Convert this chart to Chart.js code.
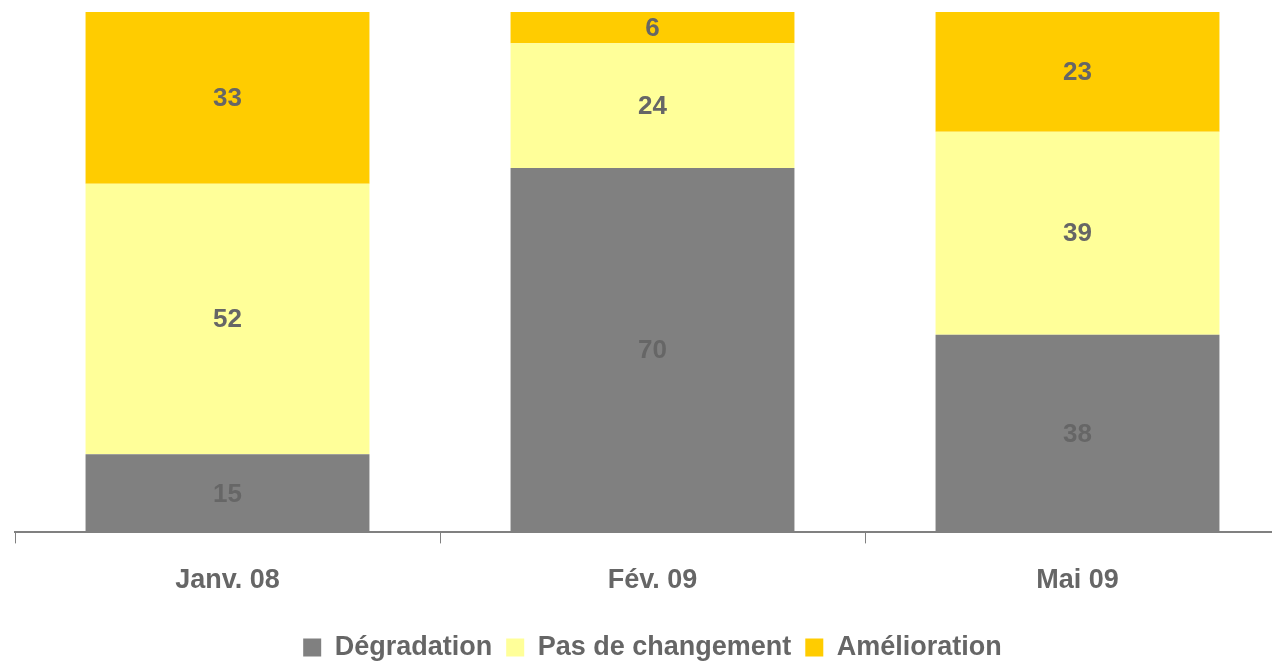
<!DOCTYPE html>
<html lang="fr">
<head>
  <meta charset="UTF-8">
  <script src="https://cdn.jsdelivr.net/npm/chart.js"></script>
  <title>Evolution</title>
  <style>
    html, body { margin: 0; padding: 0; overflow: hidden; background: #fff; }
    #box { width: 1291px; height: 662px; }
  </style>
</head>
<body>
  <div id="box"><canvas id="myChart"></canvas></div>

  <script>
    const categories = ['Janv. 08', 'Fév. 09', 'Mai 09'];
    const degradation = [15, 70, 38];
    const pasDeChangement = [52, 24, 39];
    const amelioration = [33, 6, 23];

    const txt = '#666666';
    const fontFam = '"Liberation Sans", Arial, sans-serif';

    // petit plugin maison pour les valeurs au centre des barres
    const valeurs = {
      id: 'valeurs',
      afterDatasetsDraw(chart) {
        const ctx = chart.ctx;
        ctx.save();
        ctx.font = 'bold 26px ' + fontFam;
        ctx.fillStyle = txt;
        ctx.textAlign = 'center';
        ctx.textBaseline = 'middle';
        chart.data.datasets.forEach((ds, i) => {
          chart.getDatasetMeta(i).data.forEach((bar, j) => {
            ctx.fillText(ds.data[j], bar.x, (bar.y + bar.base) / 2 + 1);
          });
        });
        ctx.restore();
      }
    };

    new Chart(document.getElementById('myChart'), {
      type: 'bar',
      data: {
        labels: categories,
        datasets: [
          { label: 'Dégradation', data: degradation, backgroundColor: '#808080' },
          { label: 'Pas de changement', data: pasDeChangement, backgroundColor: '#FFFF99' },
          { label: 'Amélioration', data: amelioration, backgroundColor: '#FFCC00' }
        ]
      },
      options: {
        responsive: true,
        maintainAspectRatio: false,
        animation: false,
        layout: { padding: { left: 15, right: 1, top: 12, bottom: -9 } },
        datasets: { bar: { categoryPercentage: 1, barPercentage: 0.668 } },
        scales: {
          x: {
            stacked: true,
            grid: { drawOnChartArea: false, color: '#808080', tickLength: 11, lineWidth: 1 },
            border: { color: '#808080', width: 2 },
            ticks: { color: txt, font: { family: fontFam, size: 27, weight: 'bold' }, padding: 21 }
          },
          y: { stacked: true, display: false, min: 0, max: 100 }
        },
        plugins: {
          legend: {
            position: 'bottom',
            // titre vide, juste pour descendre la légende
            title: { display: true, text: '', font: { size: 1 }, padding: { top: 1, bottom: 0 } },
            labels: {
              color: txt,
              boxWidth: 18,
              boxHeight: 18,
              padding: 14,
              font: { family: fontFam, size: 27, weight: 'bold' }
            }
          },
          tooltip: { enabled: false }
        }
      },
      plugins: [valeurs]
    });
  </script>
</body>
</html>
